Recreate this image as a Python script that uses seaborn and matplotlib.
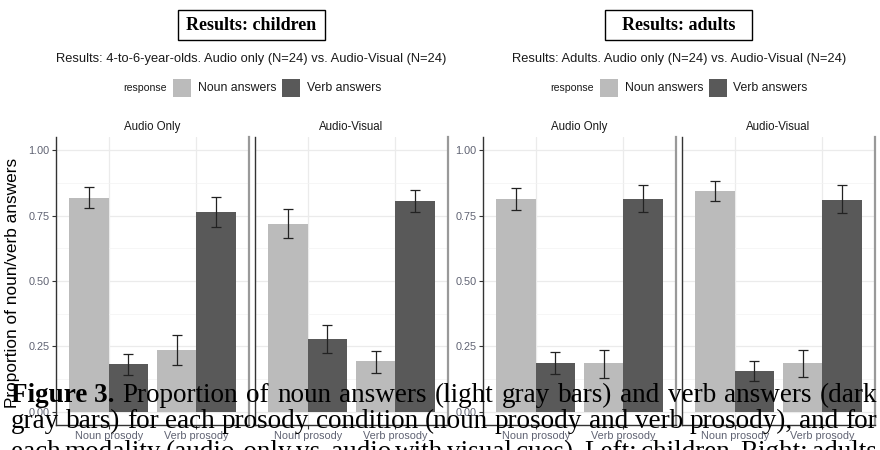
import matplotlib
matplotlib.use("Agg")
import matplotlib.pyplot as plt
from matplotlib.patches import Rectangle
import numpy as np
import pandas as pd
import seaborn as sns

# ---------------- data ----------------
prosody = ["Noun prosody", "Verb prosody"]
responses = ["Noun answers", "Verb answers"]
conditions = ["Audio Only", "Audio-Visual"]
groups = ["children", "adults"]
panel_titles = ["Results: children", "Results: adults"]
subtitles = ["Results: 4-to-6-year-olds. Audio only (N=24) vs. Audio-Visual (N=24)",
             "Results: Adults. Audio only (N=24) vs. Audio-Visual (N=24)"]
y_ticks = [0.0, 0.25, 0.5, 0.75, 1.0]
y_tick_labels = ["0.00", "0.25", "0.50", "0.75", "1.00"]
y_label = "Proportion of noun/verb answers"

# children, audio only
ch_ao_noun = [0.818, 0.235]; ch_ao_noun_lo = [0.779, 0.178]; ch_ao_noun_hi = [0.859, 0.293]
ch_ao_verb = [0.182, 0.765]; ch_ao_verb_lo = [0.140, 0.706]; ch_ao_verb_hi = [0.220, 0.821]
# children, audio-visual
ch_av_noun = [0.719, 0.195]; ch_av_noun_lo = [0.665, 0.149]; ch_av_noun_hi = [0.774, 0.234]
ch_av_verb = [0.280, 0.807]; ch_av_verb_lo = [0.226, 0.762]; ch_av_verb_hi = [0.333, 0.849]
# adults, audio only
ad_ao_noun = [0.812, 0.186]; ad_ao_noun_lo = [0.770, 0.129]; ad_ao_noun_hi = [0.856, 0.235]
ad_ao_verb = [0.188, 0.814]; ad_ao_verb_lo = [0.144, 0.763]; ad_ao_verb_hi = [0.229, 0.868]
# adults, audio-visual
ad_av_noun = [0.844, 0.188]; ad_av_noun_lo = [0.805, 0.134]; ad_av_noun_hi = [0.882, 0.238]
ad_av_verb = [0.156, 0.810]; ad_av_verb_lo = [0.118, 0.760]; ad_av_verb_hi = [0.195, 0.865]

caption_lines = [
    [("Figure 3.", "bold"), ("Proportion", "normal"), ("of", "normal"), ("noun", "normal"),
     ("answers", "normal"), ("(light", "normal"), ("gray", "normal"), ("bars)", "normal"),
     ("and", "normal"), ("verb", "normal"), ("answers", "normal"), ("(dark", "normal")],
    [(w, "normal") for w in "gray bars) for each prosody condition (noun prosody and verb prosody), and for".split()],
    [(w, "normal") for w in "each modality (audio-only vs. audio with visual cues). Left: children. Right: adults".split()],
]

series = {
    ("children", "Audio Only", "Noun answers"): (ch_ao_noun, ch_ao_noun_lo, ch_ao_noun_hi),
    ("children", "Audio Only", "Verb answers"): (ch_ao_verb, ch_ao_verb_lo, ch_ao_verb_hi),
    ("children", "Audio-Visual", "Noun answers"): (ch_av_noun, ch_av_noun_lo, ch_av_noun_hi),
    ("children", "Audio-Visual", "Verb answers"): (ch_av_verb, ch_av_verb_lo, ch_av_verb_hi),
    ("adults", "Audio Only", "Noun answers"): (ad_ao_noun, ad_ao_noun_lo, ad_ao_noun_hi),
    ("adults", "Audio Only", "Verb answers"): (ad_ao_verb, ad_ao_verb_lo, ad_ao_verb_hi),
    ("adults", "Audio-Visual", "Noun answers"): (ad_av_noun, ad_av_noun_lo, ad_av_noun_hi),
    ("adults", "Audio-Visual", "Verb answers"): (ad_av_verb, ad_av_verb_lo, ad_av_verb_hi),
}
rows = []
for (g, c, r), (vals, los, his) in series.items():
    for p, v, lo, hi in zip(prosody, vals, los, his):
        rows.append(dict(group=g, condition=c, response=r, prosody=p, prop=v, lo=lo, hi=hi))
df = pd.DataFrame(rows)

# ---------------- style ----------------
sns.set_theme(style="white")
plt.rcParams["font.family"] = ["Liberation Sans", "DejaVu Sans"]
palette = {"Noun answers": "#BBBBBB", "Verb answers": "#595959"}
tick_col = "#5f6272"
W, H = 880, 450


def fx(x):
    return x / W


def fy(y):
    return 1 - y / H


fig = plt.figure(figsize=(W / 100, H / 100), dpi=100)
fig.patch.set_facecolor("white")

facet_px = {
    ("children", "Audio Only"): (56, 249),
    ("children", "Audio-Visual"): (255, 448),
    ("adults", "Audio Only"): (483, 676),
    ("adults", "Audio-Visual"): (682, 875),
}
TOP, BOT = 137, 425

for (g, c), (x0, x1) in facet_px.items():
    ax = fig.add_axes([fx(x0), fy(BOT), (x1 - x0) / W, (BOT - TOP) / H])
    sub = df[(df.group == g) & (df.condition == c)]
    sns.barplot(data=sub, x="prosody", y="prop", hue="response", order=prosody,
                hue_order=responses, palette=palette, errorbar=None, width=0.9,
                saturation=1, legend=False, ax=ax, zorder=2, linewidth=0)
    for resp, cont in zip(responses, ax.containers):
        for p, bar in zip(prosody, cont):
            rec = sub[(sub.response == resp) & (sub.prosody == p)].iloc[0]
            xc = bar.get_x() + bar.get_width() / 2
            ax.errorbar(xc, rec.prop, yerr=[[rec.prop - rec.lo], [rec.hi - rec.prop]],
                        fmt="none", ecolor="#222222", elinewidth=0.9, capsize=3.6,
                        capthick=0.9, zorder=3)
    ax.set_xlim(-0.6, 1.6)
    ax.set_ylim(-0.05, 1.05)
    ax.set_yticks(y_ticks)
    ax.set_yticks([0.125, 0.375, 0.625, 0.875], minor=True)
    ax.set_axisbelow(True)
    ax.grid(which="major", color="#EBEBEB", lw=0.9)
    ax.grid(which="minor", axis="y", color="#F3F3F3", lw=0.5)
    ax.set_xlabel("")
    ax.set_ylabel("")
    ax.tick_params(which="minor", length=0)
    ax.tick_params(axis="x", length=3, width=0.8, color="#333333", pad=1.5,
                   labelsize=7.8, labelcolor=tick_col, bottom=True)
    if c == "Audio Only":
        ax.set_yticklabels(y_tick_labels)
        ax.tick_params(axis="y", length=3, width=0.8, color="#333333", pad=1.5,
                       labelsize=7.8, labelcolor=tick_col, left=True)
    else:
        ax.tick_params(axis="y", left=False, labelleft=False)
    for s in ["left", "bottom"]:
        ax.spines[s].set_color("#333333")
        ax.spines[s].set_linewidth(1.0)
    ax.spines["right"].set_color("#999999")
    ax.spines["right"].set_linewidth(1.6)
    ax.spines["top"].set_visible(False)
    fig.text(fx((x0 + x1) / 2), fy(127), c, ha="center", va="center",
             fontsize=8.3, color="#1a1a1a")

# y label of the left chart
fig.text(fx(12.5), fy(283), y_label, rotation=90, ha="center", va="center",
         fontsize=12.4, color="black")

# titles, subtitles, legends
box_px = [(178, 325), (605, 752)]
centers = [251.5, 679]
legend_px = [dict(title=123, s1=173, l1=198, s2=282, l2=307),
             dict(title=550, s1=600, l1=625, s2=709, l2=733)]
for t, st, (b0, b1), cx, lg in zip(panel_titles, subtitles, box_px, centers, legend_px):
    fig.add_artist(Rectangle((fx(b0), fy(40)), (b1 - b0) / W, 30 / H,
                             transform=fig.transFigure, facecolor="white",
                             edgecolor="black", lw=1.0))
    fig.text(fx((b0 + b1) / 2), fy(25.5), t, ha="center", va="center", fontsize=13,
             fontweight="bold", family=["Liberation Serif", "DejaVu Serif"], color="black")
    fig.text(fx(cx), fy(59), st, ha="center", va="center", fontsize=9.3, color="#1a1a1a")
    fig.text(fx(lg["title"]), fy(88), "response", ha="left", va="center",
             fontsize=7.6, color="#1a1a1a")
    for key_s, key_l, resp in [("s1", "l1", responses[0]), ("s2", "l2", responses[1])]:
        fig.add_artist(Rectangle((fx(lg[key_s]), fy(97)), 18 / W, 18 / H,
                                 transform=fig.transFigure, facecolor=palette[resp],
                                 edgecolor="none"))
        fig.text(fx(lg[key_l]), fy(88), resp, ha="left", va="center",
                 fontsize=8.8, color="#1a1a1a")

# caption (justified lines, drawn over the charts)
renderer = fig.canvas.get_renderer()
baselines = [402, 428.5, 459]
X0, X1 = 11, 877
for words, base in zip(caption_lines, baselines):
    texts = []
    for w, wt in words:
        t = fig.text(0, fy(base), w, ha="left", va="baseline", fontsize=19.5,
                     fontweight=wt, family=["Liberation Serif", "DejaVu Serif"],
                     color="black", zorder=10)
        texts.append(t)
    widths = [t.get_window_extent(renderer).width for t in texts]
    gap = (X1 - X0 - sum(widths)) / (len(texts) - 1)
    x = X0
    for t, wd in zip(texts, widths):
        t.set_x(fx(x))
        x += wd + gap

fig.savefig("out.png", dpi=100, facecolor="white")
